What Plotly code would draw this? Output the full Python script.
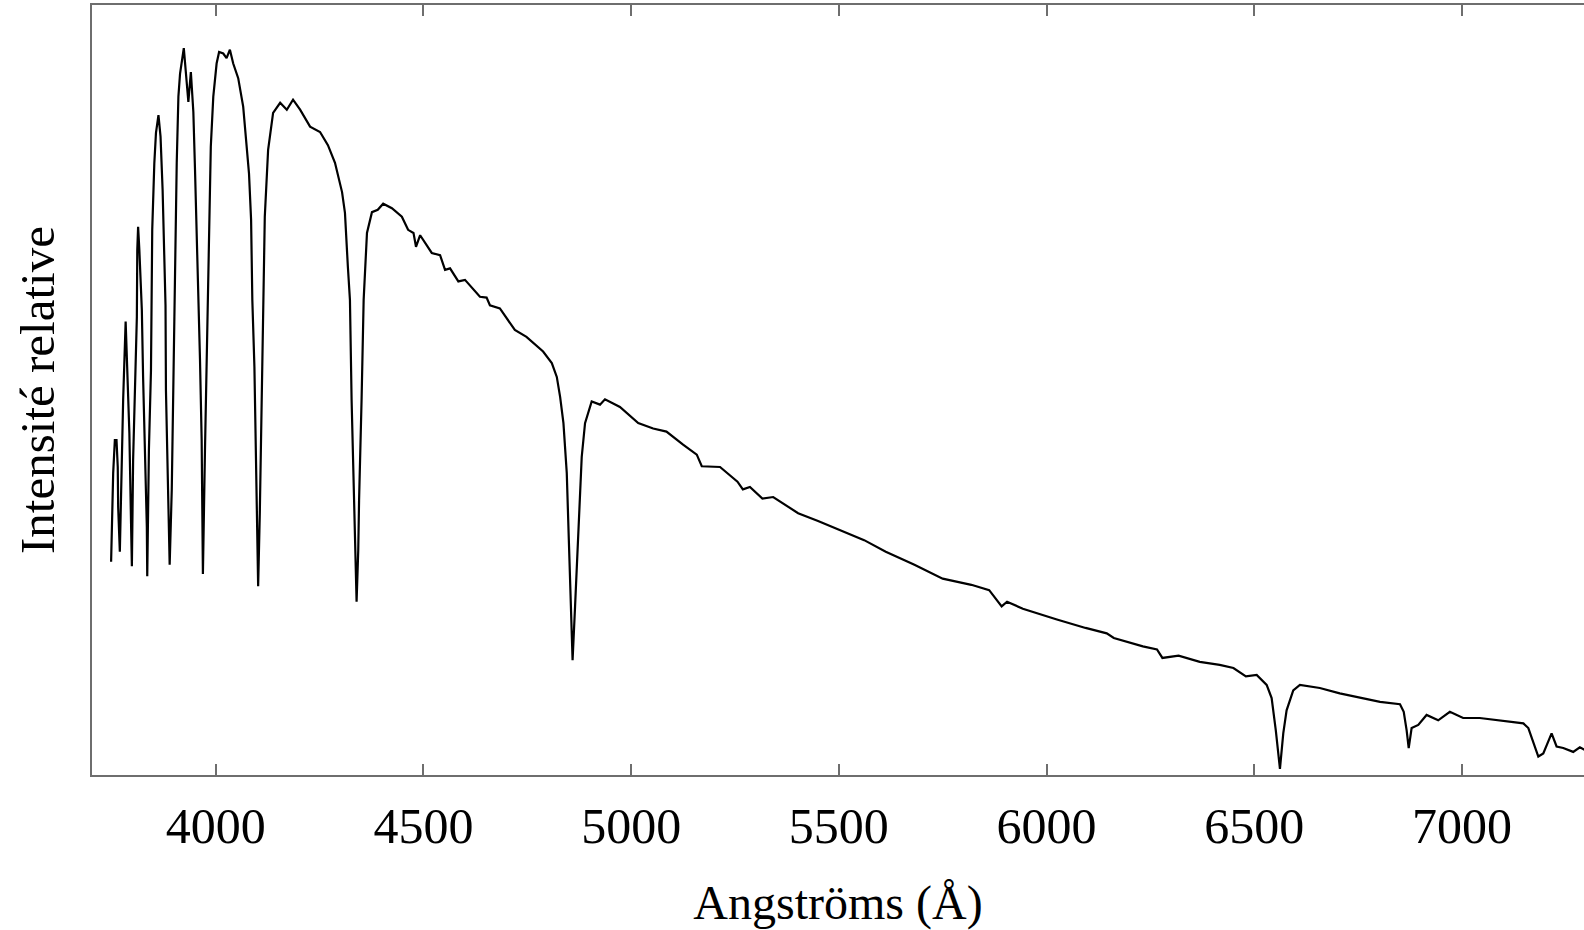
import plotly.graph_objects as go

# wavelength (Angstrom) and relative intensity
wavelength = [
    3748, 3751, 3753, 3757, 3761, 3764, 3765, 3769, 3773, 3777, 3783, 3787, 3792, 3796, 3798,
    3801, 3806, 3810, 3811, 3813, 3816, 3822, 3825, 3830, 3834, 3835, 3839, 3844, 3847, 3852,
    3856, 3862, 3867, 3872, 3875, 3879, 3880, 3884, 3887, 3889, 3894, 3899, 3902, 3906, 3910,
    3914, 3923, 3930, 3934, 3940, 3946, 3950, 3954, 3959, 3962, 3966, 3968, 3969, 3974, 3978,
    3980, 3984, 3988, 3994, 4002, 4008, 4018, 4026, 4034, 4042, 4054, 4066, 4074, 4080, 4085,
    4088, 4093, 4096, 4098, 4101, 4102, 4106, 4109, 4110, 4113, 4118, 4126, 4138, 4155, 4171,
    4186, 4203, 4227, 4251, 4270, 4287, 4304, 4311, 4318, 4323, 4327, 4333, 4337, 4339, 4343,
    4345, 4351, 4356, 4364, 4376, 4390, 4403, 4424, 4448, 4463, 4476, 4482, 4492, 4520, 4540,
    4552, 4564, 4584, 4600, 4636, 4652, 4660, 4684, 4720, 4748, 4788, 4809, 4821, 4829, 4837,
    4845, 4850, 4855, 4859, 4865, 4873, 4881, 4889, 4905, 4925, 4937, 4973, 5017, 5053, 5085,
    5125, 5158, 5170, 5214, 5256, 5269, 5286, 5316, 5342, 5402, 5450, 5510, 5561, 5613, 5682,
    5750, 5819, 5862, 5892, 5905, 5943, 6025, 6094, 6145, 6162, 6232, 6266, 6279, 6318, 6369,
    6417, 6450, 6480, 6506, 6530, 6542, 6552, 6562, 6570, 6578, 6594, 6610, 6658, 6706, 6755,
    6803, 6851, 6860, 6867, 6872, 6879, 6895, 6915, 6943, 6971, 7003, 7043, 7092, 7148, 7160,
    7172, 7184, 7196, 7208, 7216, 7228, 7244, 7268, 7284, 7298,
]
intensity = [
    27.7, 33.5, 39.2, 43.5, 43.5, 40.0, 34.8, 29.0, 40.9, 48.7, 58.9, 53.0, 44.4, 32.7, 27.1,
    40.9, 50.4, 59.5, 68.2, 71.2, 68.2, 60.4, 51.7, 42.2, 32.2, 25.8, 42.2, 52.6, 70.8, 79.4,
    83.4, 85.7, 82.9, 76.0, 69.1, 61.0, 50.0, 39.2, 31.4, 27.3, 37.0, 56.9, 68.2, 79.5, 88.1,
    91.1, 94.4, 90.3, 87.4, 91.3, 86.1, 78.6, 70.8, 61.0, 53.9, 43.5, 33.1, 26.1, 42.2, 52.6,
    61.7, 72.5, 81.6, 88.1, 92.4, 93.9, 93.7, 93.1, 94.2, 92.4, 90.5, 86.8, 82.0, 78.1, 72.1,
    61.7, 53.0, 44.4, 35.7, 27.9, 24.5, 34.0, 43.5, 52.2, 61.7, 72.5, 81.2, 86.0, 87.3, 86.4,
    87.7, 86.4, 84.2, 83.5, 81.8, 79.5, 75.7, 73.0, 66.0, 61.7, 48.7, 35.7, 29.2, 22.5, 29.2,
    35.7, 48.7, 61.7, 70.4, 73.1, 73.4, 74.2, 73.6, 72.5, 70.8, 70.4, 68.6, 70.1, 67.8, 67.5,
    65.6, 65.8, 64.1, 64.3, 62.1, 62.0, 61.0, 60.6, 57.8, 56.9, 55.0, 53.5, 51.7, 49.1, 45.7,
    39.2, 30.5, 19.7, 14.9, 21.9, 32.7, 41.3, 45.7, 48.5, 48.1, 48.8, 47.8, 45.7, 45.0, 44.6,
    42.9, 41.6, 40.1, 40.0, 38.1, 37.1, 37.4, 35.9, 36.1, 34.0, 33.0, 31.6, 30.5, 29.0, 27.3,
    25.5, 24.7, 24.0, 21.9, 22.5, 21.6, 20.2, 19.1, 18.4, 17.8, 16.7, 16.3, 15.2, 15.5, 14.7,
    14.3, 13.9, 12.8, 13.0, 11.7, 10.0, 5.8, 0.8, 5.4, 8.4, 11.0, 11.7, 11.3, 10.6, 10.0,
    9.5, 9.2, 8.2, 5.8, 3.5, 6.1, 6.5, 7.8, 7.1, 8.2, 7.4, 7.4, 7.1, 6.7, 6.1,
    4.1, 2.4, 2.8, 4.5, 5.4, 3.7, 3.5, 3.0, 3.6, 3.2,
]
tick_values = [4000, 4500, 5000, 5500, 6000, 6500, 7000]

serif = 'Liberation Serif'
axis_grey = '#6e6e6e'

fig = go.Figure()

fig.add_trace(go.Scatter(
    x=wavelength, y=intensity,
    mode='lines',
    line=dict(width=2.2, color='black'),
    showlegend=False,
))

fig.update_xaxes(
    range=[3702, 7294],
    tickvals=tick_values,
    ticktext=[str(v) for v in tick_values],
    ticks='inside', ticklen=11, tickwidth=1.5, tickcolor=axis_grey,
    showline=True, linecolor=axis_grey, linewidth=1.5,
    mirror='ticks',
    showgrid=False, zeroline=False,
    tickfont=dict(family=serif, size=50, color='black'),
    ticklabelstandoff=6,
    title=dict(text='Angströms (Å)', font=dict(family=serif, size=48, color='black'), standoff=34),
)
fig.update_yaxes(
    range=[0, 100],
    showticklabels=False, ticks='',
    showline=True, linecolor=axis_grey, linewidth=1.5,
    showgrid=False, zeroline=False,
    title=dict(text='Intensité relative', font=dict(family=serif, size=49, color='black'), standoff=20),
)

fig.update_layout(
    width=1584, height=930,
    margin=dict(l=92, r=0, t=5, b=155),
    plot_bgcolor='white',
    paper_bgcolor='white',
)

# drop the browser's default body margin so the figure sits at the page corner
fig.write_html("out.html", config={'displayModeBar': False},
               post_script="document.body.style.margin='0';")
